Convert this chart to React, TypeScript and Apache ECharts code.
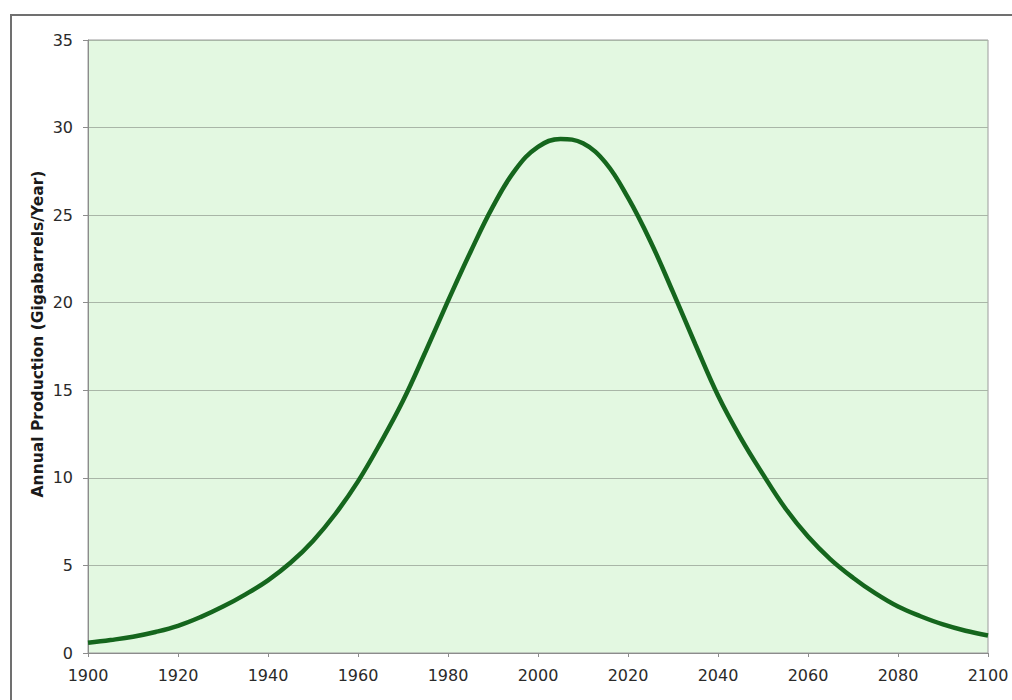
import React, { useEffect, useRef } from "react";
import * as echarts from "echarts";

const years = [
  1900, 1905, 1910, 1915, 1920, 1925, 1930, 1935, 1940, 1945, 1950, 1955, 1960,
  1965, 1970, 1975, 1980, 1985, 1990, 1995, 2000, 2005, 2010, 2015, 2020, 2025,
  2030, 2035, 2040, 2045, 2050, 2055, 2060, 2065, 2070, 2075, 2080, 2085, 2090,
  2095, 2100,
];
const production = [
  0.58, 0.74, 0.93, 1.2, 1.55, 2.05, 2.65, 3.35, 4.15, 5.15, 6.4, 7.95, 9.8,
  12.0, 14.4, 17.2, 20.1, 22.9, 25.5, 27.6, 28.9, 29.35, 29.1, 28.0, 26.0, 23.5,
  20.6, 17.6, 14.7, 12.3, 10.2, 8.25, 6.65, 5.35, 4.3, 3.4, 2.65, 2.1, 1.63, 1.27,
  1.0,
];
const yTitle = "Annual Production (Gigabarrels/Year)";

export default function App() {
  const ref = useRef<HTMLDivElement>(null);
  useEffect(() => {
    if (!ref.current) return;
    const chart = echarts.init(ref.current, null, { renderer: "svg" });
    const font = "DejaVu Sans, Verdana, sans-serif";
    chart.setOption({
      animation: false,
      backgroundColor: "#ffffff",
      grid: {
        left: 88,
        top: 40,
        right: 24,
        bottom: 47,
        show: true,
        backgroundColor: "#e3f8e1",
        borderColor: "#9c9c9c",
        borderWidth: 1,
      },
      xAxis: {
        type: "value",
        min: 1900,
        max: 2100,
        interval: 20,
        axisLine: { show: true, onZero: false, lineStyle: { color: "#8c8c8c", width: 1 } },
        axisTick: { show: true, length: 4, lineStyle: { color: "#8c8c8c" } },
        axisLabel: {
          margin: 14,
          fontSize: 16,
          color: "#2a2a2a",
          fontFamily: font,
          formatter: (v: number) => String(v),
        },
        splitLine: { show: false },
      },
      yAxis: {
        type: "value",
        min: 0,
        max: 35,
        interval: 5,
        axisLine: { show: true, lineStyle: { color: "#8c8c8c", width: 1 } },
        axisTick: { show: true, length: 5, lineStyle: { color: "#8c8c8c" } },
        axisLabel: {
          margin: 15,
          fontSize: 16,
          color: "#2a2a2a",
          fontFamily: font,
        },
        splitLine: { show: true, lineStyle: { color: "#a9b6a7", width: 1 } },
      },
      graphic: [
        {
          type: "rect",
          shape: { x: 11, y: 15, width: 1020, height: 720 },
          style: { fill: "none", stroke: "#707070", lineWidth: 2 },
          silent: true,
        },
        {
          type: "text",
          x: 38,
          y: 334,
          rotation: Math.PI / 2,
          style: {
            text: yTitle,
            font: `bold 15.5px ${font}`,
            fill: "#1a1a1a",
            textAlign: "center",
            textVerticalAlign: "middle",
          },
        },
      ],
      series: [
        {
          type: "line",
          data: years.map((y, i) => [y, production[i]]),
          smooth: 0.4,
          showSymbol: false,
          lineStyle: { color: "#15661d", width: 4.5 },
        },
      ],
    });
    return () => chart.dispose();
  }, []);
  return (
    <div
      ref={ref}
      style={{ position: "fixed", left: 0, top: 0, width: 1012, height: 700 }}
    />
  );
}
